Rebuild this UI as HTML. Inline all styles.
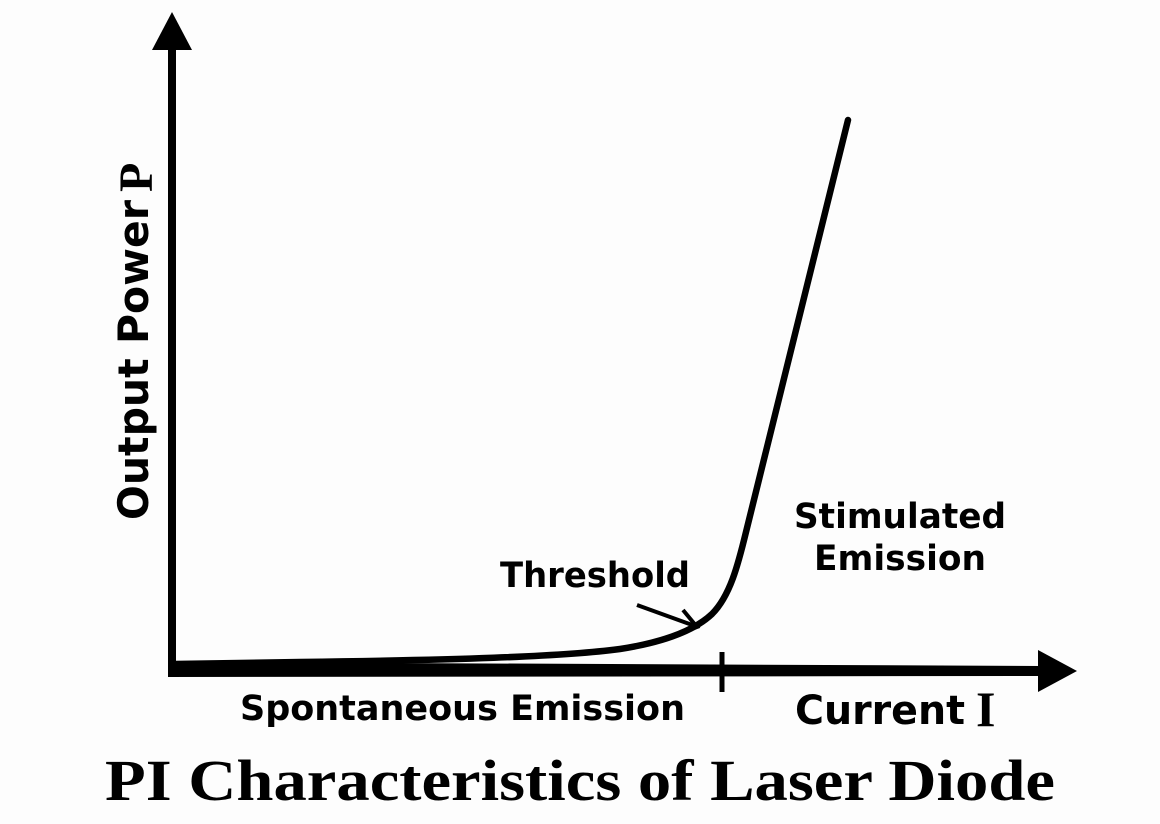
<!DOCTYPE html>
<html><head><style>
html,body{margin:0;padding:0;background:#fff;}
svg{display:block;}
</style></head><body>
<svg width="1160" height="824" viewBox="0 0 1160 824" xmlns="http://www.w3.org/2000/svg">
<rect width="1160" height="824" fill="#fdfdfd"/>
<!-- y axis -->
<line x1="172" y1="45" x2="172" y2="676" stroke="#000" stroke-width="8"/>
<polygon points="172,12 152,50 192,50" fill="#000"/>
<!-- x axis -->
<polygon points="168,662 1040,666 1040,676 168,677" fill="#000"/>
<polygon points="1077,671 1038,650 1038,692" fill="#000"/>
<line x1="722" y1="652" x2="722" y2="692" stroke="#000" stroke-width="5"/>
<!-- curve -->
<path d="M175,664 L300,662 C450,660 560,657 620,649 C665,642 695,630 712,614 C730,596 738,565 746,532 L848,120" fill="none" stroke="#000" stroke-width="6.5" stroke-linecap="round"/>
<!-- threshold arrow -->
<line x1="637" y1="605" x2="695" y2="626" stroke="#000" stroke-width="4"/>
<polyline points="683,610 697,627 680,633" fill="none" stroke="#000" stroke-width="4"/>
<g font-family="'DejaVu Sans','Liberation Sans',sans-serif" font-weight="bold" fill="#000">
<text x="500" y="587" font-size="35" textLength="190" lengthAdjust="spacingAndGlyphs">Threshold</text>
<text x="900" y="528" font-size="35" text-anchor="middle" textLength="212" lengthAdjust="spacingAndGlyphs">Stimulated</text>
<text x="900" y="570" font-size="35" text-anchor="middle" textLength="172" lengthAdjust="spacingAndGlyphs">Emission</text>
<text x="240" y="720" font-size="35" textLength="445" lengthAdjust="spacingAndGlyphs">Spontaneous Emission</text>
<text x="795" y="724" font-size="40" textLength="170" lengthAdjust="spacingAndGlyphs">Current</text>
<text transform="translate(148,520) rotate(-90)" font-size="42" textLength="320" lengthAdjust="spacingAndGlyphs">Output Power</text>
</g>
<text x="976" y="726" font-family="'Liberation Serif',serif" font-weight="bold" font-size="50" fill="#000">I</text>
<text transform="translate(152,192) rotate(-90)" font-family="'Liberation Serif',serif" font-weight="bold" font-size="48" fill="#000">P</text>
<text x="105" y="800" font-family="'Liberation Serif',serif" font-weight="bold" font-size="58" fill="#000" textLength="950" lengthAdjust="spacingAndGlyphs">PI Characteristics of Laser Diode</text>
</svg>
</body></html>
